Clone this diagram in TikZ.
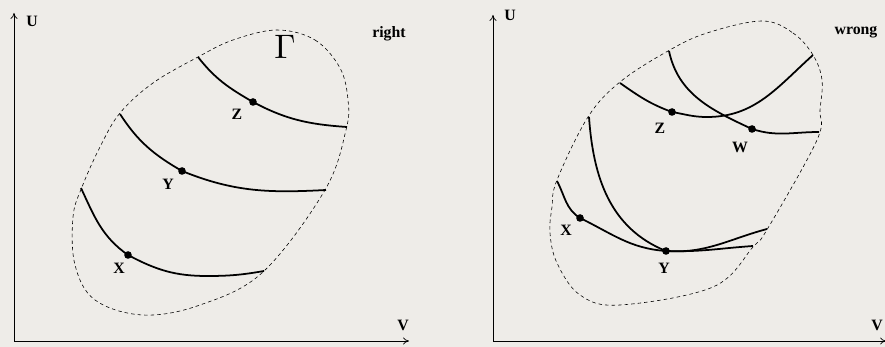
\documentclass[tikz,border=0pt]{standalone}
\usepackage{fontspec}
\setmainfont{Liberation Serif}
\usepackage{xcolor}
\usepackage{graphicx}
\usepackage{tikz}
\usetikzlibrary{calc,arrows.meta}

\definecolor{paper}{RGB}{238,236,232}

\begin{document}
\begin{tikzpicture}[
    x=0.03cm, y=-0.03cm,
    axis/.style={line width=0.6pt, -{To[length=5pt,width=6pt]}},
    curve/.style={line width=1.5pt},
    border/.style={line width=0.5pt, dash pattern=on 3pt off 2.6pt},
    pt/.style={fill=black, circle, inner sep=0pt, minimum size=6.5pt},
    lab/.style={font=\fontsize{13.5}{15}\selectfont\bfseries, inner sep=0pt},
    tag/.style={font=\fontsize{13.5}{15}\selectfont\bfseries, inner sep=0pt}
]
\fill[paper] (0,0) rectangle (885,347);
\useasboundingbox (0,0) rectangle (885,347);

% ================================================================
%  Left panel — right
% ================================================================
\coordinate (Ol) at (14,341);
\coordinate (Ul) at (14,13);
\coordinate (Vl) at (409,341);
\draw[axis] (Ol) -- (Ul);
\draw[axis] (Ol) -- (Vl);
\node[lab] (ul) at (32,21) {U};
\node[lab] (vl) at (403,325) {V};
\node[tag] (rt) at (389,34) {right};
\node[inner sep=0pt] (gam) at (285,47) {\scalebox{2.9}{$\Gamma$}};

% region boundary
\draw[border] plot[smooth cycle, tension=0.6] coordinates {
    (277,30) (315,40) (340,68) (348,100) (346,130) (325,190) (263,272)
    (200,305) (143,315) (95,300) (75,265) (73,217) (82,187) (100,147)
    (120,113) (153,83) (198,57) (233,40)};

% dots
\node[pt] (zl) at (253,102) {};
\node[pt] (yl) at (182,171) {};
\node[pt] (xl) at (128,255) {};
\node[lab] (zll) at (237,114) {Z};
\node[lab] (yll) at (168,184) {Y};
\node[lab] (xll) at (119,268) {X};

% curves
\coordinate (zl0) at (198,57);
\coordinate (zl1) at (347,127);
\coordinate (yl0) at (120,114);
\coordinate (yl1) at (326,190);
\coordinate (xl0) at (81,188);
\coordinate (xlm) at (207,276);
\coordinate (xl1) at (264,271);
\draw[curve] (zl0) to[out=-52,in=150] (zl.center) to[out=-28,in=176] (zl1);
\draw[curve] (yl0) to[out=-57,in=150] (yl.center) to[out=-22,in=183] (yl1);
\draw[curve] (xl0) to[out=-65,in=145] (xl.center) to[out=-28,in=180] (xlm)
    to[out=0,in=190] (xl1);

% ================================================================
%  Right panel — wrong
% ================================================================
\coordinate (Or) at (493,341);
\coordinate (Ur) at (493,15);
\coordinate (Vr) at (886,341);
\draw[axis] (Or) -- (Ur);
\draw[axis] (Or) -- (Vr);
\node[lab] (ur) at (510,15) {U};
\node[lab] (vr) at (877,325) {V};
\node[tag] (wr) at (856,32) {wrong};

% region boundary
\draw[border] plot[smooth cycle, tension=0.6] coordinates {
    (762,21) (793,33) (813,55) (822,80) (820,110) (817,140) (768,228)
    (753,247) (713,287) (620,305) (580,295) (557,263) (550,233) (552,207)
    (557,180) (588,117) (620,82) (668,51) (707,33)};

% dots
\node[pt] (zr) at (672,112) {};
\node[pt] (wd) at (752,129) {};
\node[pt] (yr) at (666,251) {};
\node[pt] (xr) at (580,218) {};
\node[lab] (zrl) at (660,128) {Z};
\node[lab] (wdl) at (740,147) {W};
\node[lab] (yrl) at (664,268) {Y};
\node[lab] (xrl) at (566,230) {X};

% curves
\coordinate (zr0) at (620,83);
\coordinate (zrm) at (707,117);
\coordinate (zr1) at (813,55);
\coordinate (wd0) at (669,51);
\coordinate (wd1) at (819,132);
\coordinate (xr0) at (557,181);
\coordinate (xr1) at (767,229);
\coordinate (yr0) at (589,117);
\coordinate (yr1) at (753,246);
\draw[curve] (zr0) to[out=-35,in=160] (zr.center) to[out=-10,in=180] (zrm)
    to[out=0,in=222] (zr1);
\draw[curve] (wd0) to[out=-78,in=155] (wd.center) to[out=-18,in=180] (wd1);
\draw[curve] (xr0) to[out=-62,in=148] (xr.center) to[out=-26,in=176] (yr.center)
    to[out=-4,in=195] (xr1);
\draw[curve] (yr0) to[out=-86,in=158] (yr.center) to[out=-2,in=184] (yr1);
\end{tikzpicture}
\end{document}
